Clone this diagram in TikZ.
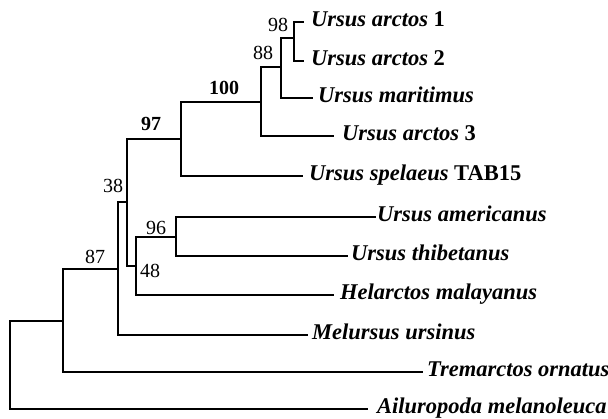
\documentclass[tikz,border=0pt]{standalone}
\usepackage{fontspec}
\setmainfont{Liberation Serif}
\begin{document}
\begin{tikzpicture}[x=1pt,y=-1pt,
  branch/.style={line width=1.4pt, line cap=rect},
  leaf/.style={anchor=west, inner ysep=0pt, text height=10pt, text depth=0pt,
    font=\fontsize{22.5}{24}\selectfont\bfseries\itshape},
  support/.style={inner sep=0pt, font=\fontsize{20}{22}\selectfont},
  bsupport/.style={support, font=\fontsize{20}{22}\selectfont\bfseries}]
\useasboundingbox (0,0) rectangle (608,419);
% internal nodes (x of vertical bar, y where parent branch joins)
\coordinate (root) at (10,321);
\coordinate (n87) at (63,321);
\coordinate (nA) at (118,269);
\coordinate (n38) at (127,202);
\coordinate (n97) at (181,139);
\coordinate (n100) at (261,102);
\coordinate (n88) at (281,67);
\coordinate (n98) at (294,38);
\coordinate (n48) at (136,266);
\coordinate (n96) at (176,237);
% leaves
\node[leaf, inner xsep=8pt] (a1) at (303,22) {Ursus arctos \upshape 1};
\node[leaf, inner xsep=8pt] (a2) at (303,61) {Ursus arctos \upshape 2};
\node[leaf, inner xsep=6pt] (mar) at (312,98) {Ursus maritimus};
\node[leaf, inner xsep=9pt] (a3) at (333,136) {Ursus arctos \upshape 3};
\node[leaf, inner xsep=7pt] (spe) at (302,176) {Ursus spelaeus \upshape TAB15};
\node[leaf, inner xsep=2pt] (ame) at (375,217) {Ursus americanus};
\node[leaf, inner xsep=4pt] (thi) at (347,256) {Ursus thibetanus};
\node[leaf, inner xsep=7pt] (hel) at (333,295) {Helarctos malayanus};
\node[leaf, inner xsep=5pt] (mel) at (307,335) {Melursus ursinus};
\node[leaf, inner xsep=5pt] (tre) at (422,372) {Tremarctos ornatus};
\node[leaf, inner xsep=10pt] (ail) at (367,409) {Ailuropoda melanoleuca};
% branches
\draw[branch] (root) |- (ail.west);
\draw[branch] (root) -- (n87);
\draw[branch] (n87) |- (tre.west);
\draw[branch] (n87) |- (nA);
\draw[branch] (nA) |- (mel.west);
\draw[branch] (nA) |- (n38);
\draw[branch] (n38) |- (n97);
\draw[branch] (n38) |- (n48);
\draw[branch] (n97) |- (n100);
\draw[branch] (n97) |- (spe.west);
\draw[branch] (n100) |- (n88);
\draw[branch] (n100) |- (a3.west);
\draw[branch] (n88) |- (n98);
\draw[branch] (n88) |- (mar.west);
\draw[branch] (n98) |- (a1.west);
\draw[branch] (n98) |- (a2.west);
\draw[branch] (n48) |- (n96);
\draw[branch] (n48) |- (hel.west);
\draw[branch] (n96) |- (ame.west);
\draw[branch] (n96) |- (thi.west);
% support values
\node[support] (s98) at (278,25) {98};
\node[support] (s88) at (263,53) {88};
\node[bsupport] (s100) at (224,88) {100};
\node[bsupport] (s97) at (151,124) {97};
\node[support] (s38) at (113,186) {38};
\node[support] (s96) at (156,228) {96};
\node[support] (s48) at (150,271) {48};
\node[support] (s87) at (95,257) {87};
\end{tikzpicture}
\end{document}
